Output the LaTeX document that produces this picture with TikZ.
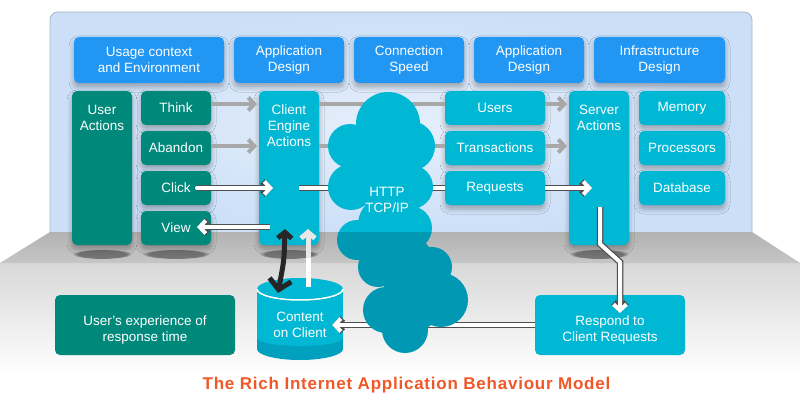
\documentclass[tikz,border=0pt]{standalone}
\usepackage{fontspec}
\setmainfont{Liberation Sans}
\usetikzlibrary{arrows.meta,shadows.blur,fadings}
\definecolor{hdrblue}{RGB}{33,150,243}
\definecolor{tealbox}{RGB}{0,137,123}
\definecolor{cyanbox}{RGB}{0,184,212}
\definecolor{cyandark}{RGB}{0,152,178}
\definecolor{cylbottom}{RGB}{0,160,190}
\definecolor{panelblue}{RGB}{203,223,247}
\definecolor{panelin}{RGB}{230,239,251}
\definecolor{paneledge}{RGB}{165,182,205}
\definecolor{titlecol}{RGB}{240,88,40}
\definecolor{arrgray}{RGB}{168,168,168}
\definecolor{outlinec}{RGB}{80,80,80}
\definecolor{floortop}{RGB}{178,178,178}
\definecolor{floorbot}{RGB}{198,198,198}
\definecolor{groundtop}{RGB}{216,216,216}
\newcommand\cloudshape{(388,124) circle[radius=32] (350,146) circle[radius=22] (410,146) circle[radius=25] (351,187) circle[radius=23] (411,187) circle[radius=22] (385,175) circle[radius=35] (357,240) circle[radius=20] (410,228) circle[radius=22] (388,225) circle[radius=30] (432,267) circle[radius=20] (378,267) circle[radius=20] (405,265) circle[radius=30] (386,310) circle[radius=23] (441,300) circle[radius=27] (405,330) circle[radius=23] (415,300) circle[radius=30]}
\begin{document}
\begin{tikzpicture}[x=1pt,y=-1pt,
  txt/.style={text=white, align=center, inner sep=0pt, font=\fontsize{13.5}{16}\selectfont},
  boxbase/.style={txt, rounded corners=5pt},
  shadowed/.style={blur shadow={shadow xshift=0pt, shadow yshift=-4pt, shadow blur radius=5pt, shadow blur steps=6, shadow opacity=30}},
  hdrbox/.style={boxbase, shadowed, fill=hdrblue, minimum height=46pt},
  tealb/.style={boxbase, fill=tealbox},
  cyanb/.style={boxbase, fill=cyanbox},
  grayline/.style={draw=arrgray, line width=4pt},
  grayarr/.style={grayline, -{Straight Barb[length=6pt,width=13pt]}},
  dbl/.style={draw=white, line width=4pt, preaction={draw=outlinec, line width=6.5pt}},
  dblarr/.style={dbl, -{Straight Barb[length=6pt,width=13pt]}},
  blk/.style={draw=black!85, line width=5pt, rounded corners=8pt, {Straight Barb[length=6pt,width=14pt]}-{Straight Barb[length=10pt,width=22pt]}},
  lightarr/.style={draw=gray!18, line width=5pt, -{Straight Barb[length=6pt,width=14pt]}},
  floorshadow/.style={fill=black, opacity=0.4, path fading=circle with fuzzy edge 20 percent}
]
\useasboundingbox (0,0) rectangle (800,401);
\fill[white] (0,0) rectangle (800,401);
% ground and panel
\shade[top color=groundtop, bottom color=white] (0,263) rectangle (800,375);
\shade[inner color=panelin, outer color=panelblue, rounded corners=8pt] (50,12) rectangle (752,240);
\draw[paneledge, line width=0.8pt, rounded corners=8pt] (50,240) -- (50,12) -- (752,12) -- (752,240);
\shade[top color=floortop, bottom color=floorbot] (50,232) -- (752,232) -- (800,263) -- (0,263) -- cycle;
\fill[floorshadow] (102,254) ellipse[x radius=30, y radius=5];
\fill[floorshadow] (176,254) ellipse[x radius=34, y radius=5];
\fill[floorshadow] (289,254) ellipse[x radius=30, y radius=5];
\fill[floorshadow] (599,254) ellipse[x radius=30, y radius=5];
% header boxes
\node[hdrbox, minimum width=150pt] (ctx) at (149,60) {Usage context\\and Environment};
\node[hdrbox, minimum width=110pt] (ad1) at (289,60) {Application\\Design};
\node[hdrbox, minimum width=110pt] (cs) at (409,60) {Connection\\Speed};
\node[hdrbox, minimum width=110pt] (ad2) at (529,60) {Application\\Design};
\node[hdrbox, minimum width=131pt] (inf) at (659.5,60) {Infrastructure\\Design};
% rows
\node[tealb, shadowed, minimum width=60pt, minimum height=154pt] (ua) at (102,168) {};
\node[tealb, shadowed, minimum width=70pt, minimum height=34pt] (think) at (176,108) {Think};
\node[tealb, shadowed, minimum width=70pt, minimum height=34pt] (aband) at (176,148) {Abandon};
\node[tealb, shadowed, minimum width=70pt, minimum height=34pt] (click) at (176,188) {Click};
\node[tealb, shadowed, minimum width=70pt, minimum height=34pt] (view) at (176,228) {View};
\node[cyanb, shadowed, minimum width=60pt, minimum height=154pt] (ce) at (289,168) {};
\node[cyanb, shadowed, minimum width=100pt, minimum height=34pt] (users) at (495,108) {Users};
\node[cyanb, shadowed, minimum width=100pt, minimum height=34pt] (trans) at (495,148) {Transactions};
\node[cyanb, shadowed, minimum width=100pt, minimum height=34pt] (req) at (495,188) {Requests};
\node[cyanb, shadowed, minimum width=60pt, minimum height=154pt] (sa) at (599,168) {};
\node[cyanb, shadowed, minimum width=86pt, minimum height=34pt] (mem) at (682,108) {Memory};
\node[cyanb, shadowed, minimum width=86pt, minimum height=34pt] (proc) at (682,148) {Processors};
\node[cyanb, shadowed, minimum width=86pt, minimum height=34pt] (db) at (682,188) {Database};
% bottom boxes
\node[tealb, minimum width=180pt, minimum height=60pt] (ux) at (145,325) {};
\node[cyanb, minimum width=150pt, minimum height=60pt] (rcr) at (610,325) {};
% cylinder
\fill[cylbottom] (300,349) ellipse[x radius=43, y radius=11];
\fill[cylbottom] (257,300) rectangle (343,349);
\fill[cyanbox] (257,289) rectangle (343,338);
\fill[cyanbox] (300,338) ellipse[x radius=43, y radius=8];
\fill[cyanbox] (300,289) ellipse[x radius=43, y radius=11];
\draw[white, line width=1.5pt] (257,289) arc[start angle=180, end angle=0, x radius=43, y radius=11];
\node[txt, minimum width=64pt, minimum height=40pt] (coc) at (300,325) {Content\\on Client};
% labels
\node[txt] (ualbl) at (102,118) {User\\Actions};
\node[txt] (celbl) at (289,126) {Client\\Engine\\Actions};
\node[txt] (salbl) at (599,118) {Server\\Actions};
\node[txt] (uxlbl) at (145,330) {User’s experience of\\response time};
\node[txt] (rcrlbl) at (610,330) {Respond to\\Client Requests};
% coordinates
\coordinate (thinkIn) at (257,104);
\coordinate (abIn) at (257,146);
\coordinate (ceU) at (319,104);
\coordinate (ceT) at (319,146);
\coordinate (saU) at (567,104);
\coordinate (saT) at (567,146);
\coordinate (clickOut) at (197,188);
\coordinate (ceIn) at (273,188);
\coordinate (ceOut) at (299,188);
\coordinate (cloudL) at (355,188);
\coordinate (cloudR) at (415,188);
\coordinate (saIn) at (592,188);
\coordinate (ceV) at (270,227);
\coordinate (viewIn) at (197,227);
\coordinate (saOut) at (600,207);
\coordinate (sb1) at (600,244);
\coordinate (sb2) at (620,262);
\coordinate (rcrIn) at (620,313);
\coordinate (bkTop) at (285,229);
\coordinate (bkMid) at (284,260);
\coordinate (bkBot) at (278,293);
\coordinate (ltBot) at (308,287);
\coordinate (ltTop) at (308,229);
\coordinate (ltMid) at (308,258);
% connectors behind the cloud
\draw[grayline] (ceU) -- ([yshift=4pt]users.west);
\draw[grayline] (ceT) -- ([yshift=2pt]trans.west);
\draw[dbl] (ceOut) -- (cloudL);
\draw[dbl] (cloudR) -- (req.west);
\draw[dblarr] (rcr.west) -- (coc.east);
% cloud
\begin{scope}
\clip (0,0) rectangle (800,232);
\fill[cyanbox] \cloudshape;
\end{scope}
\begin{scope}
\clip (0,232) rectangle (800,401);
\fill[cyandark] \cloudshape;
\end{scope}
\node[txt] (http) at (387,200) {HTTP\\TCP/IP};
% other connectors
\draw[grayarr] ([yshift=4pt]think.east) -- (thinkIn);
\draw[grayarr] ([yshift=2pt]aband.east) -- (abIn);
\draw[grayarr] ([yshift=4pt]users.east) -- (saU);
\draw[grayarr] ([yshift=2pt]trans.east) -- (saT);
\draw[dblarr, line cap=round] (clickOut) -- (ceIn);
\draw[dblarr] (req.east) -- (saIn);
\draw[dblarr] (ceV) -- (viewIn);
\draw[dblarr, line join=round] (saOut) -- (sb1) -- (sb2) -- (rcrIn);
\draw[lightarr] (ltBot) -- (ltTop);
\draw[white, line width=5pt] (ltBot) -- (ltMid);
\draw[blk] (bkTop) -- (bkMid) -- (bkBot);
% title
\node[text=titlecol, anchor=base, inner sep=0pt, font=\fontsize{17}{20}\selectfont\bfseries\addfontfeature{LetterSpace=4.5}] (title) at (406.5,389) {The Rich Internet Application Behaviour Model};
\end{tikzpicture}
\end{document}
